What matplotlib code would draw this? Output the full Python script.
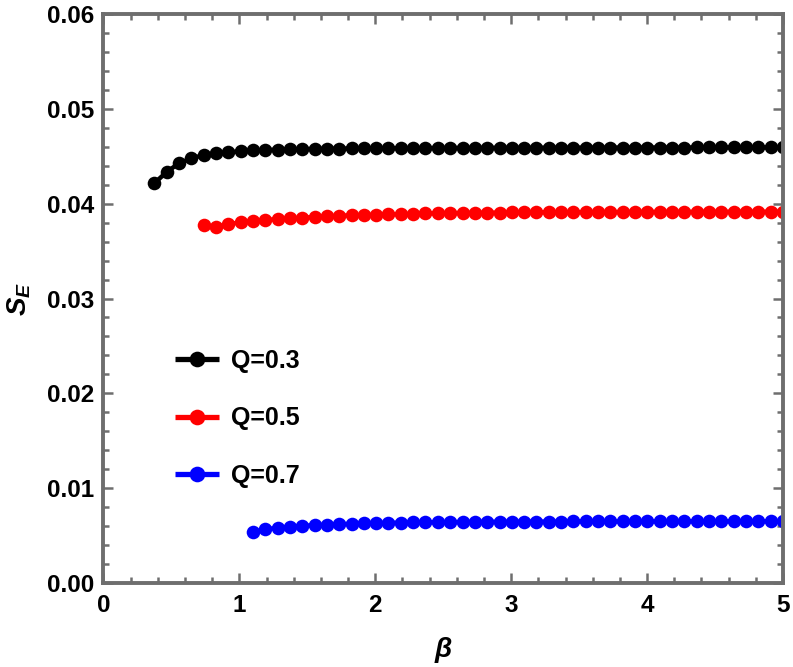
import matplotlib
matplotlib.use("Agg")
import matplotlib.pyplot as plt
from matplotlib.ticker import MultipleLocator

plt.rcParams['font.family'] = ['Liberation Sans', 'DejaVu Sans']
plt.rcParams['font.weight'] = 'bold'
plt.rcParams['mathtext.fontset'] = 'custom'
plt.rcParams['mathtext.it'] = 'Liberation Sans:italic:bold'
plt.rcParams['mathtext.rm'] = 'Liberation Sans:bold'
plt.rcParams['mathtext.bf'] = 'Liberation Sans:bold'

# common beta grid
beta = [0.374, 0.465, 0.555, 0.646, 0.737, 0.828, 0.918, 1.009, 1.100, 1.190,
        1.281, 1.372, 1.462, 1.553, 1.644, 1.735, 1.825, 1.916, 2.007, 2.097,
        2.188, 2.279, 2.369, 2.460, 2.551, 2.642, 2.732, 2.823, 2.914, 3.004,
        3.095, 3.186, 3.276, 3.367, 3.458, 3.549, 3.639, 3.730, 3.821, 3.911,
        4.002, 4.093, 4.183, 4.274, 4.365, 4.456, 4.546, 4.637, 4.728, 4.818,
        4.909, 5.000]

beta_q03 = beta
se_q03 = [0.04215, 0.04335, 0.04425, 0.04478, 0.04512, 0.04530, 0.04542, 0.04553, 0.04561, 0.04566,
          0.04570, 0.04573, 0.04576, 0.04578, 0.04580, 0.04581, 0.04582, 0.04583, 0.04584, 0.04585,
          0.04586, 0.04586, 0.04587, 0.04587, 0.04588, 0.04588, 0.04589, 0.04589, 0.04589, 0.04590,
          0.04590, 0.04590, 0.04590, 0.04591, 0.04591, 0.04591, 0.04591, 0.04591, 0.04592, 0.04592,
          0.04592, 0.04592, 0.04592, 0.04592, 0.04593, 0.04593, 0.04593, 0.04593, 0.04593, 0.04593,
          0.04593, 0.04593]

beta_q05 = beta[4:]
se_q05 = [0.03770, 0.03757, 0.03783, 0.03804, 0.03817, 0.03828, 0.03838, 0.03846, 0.03852, 0.03860,
          0.03867, 0.03873, 0.03878, 0.03881, 0.03884, 0.03888, 0.03891, 0.03894, 0.03897, 0.03899,
          0.03901, 0.03903, 0.03904, 0.03905, 0.03906, 0.03907, 0.03908, 0.03909, 0.03910, 0.03910,
          0.03911, 0.03911, 0.03912, 0.03912, 0.03913, 0.03913, 0.03913, 0.03914, 0.03914, 0.03914,
          0.03914, 0.03915, 0.03915, 0.03915, 0.03915, 0.03915, 0.03916, 0.03916]

beta_q07 = beta[8:]
se_q07 = [0.00535, 0.00566, 0.00583, 0.00594, 0.00603, 0.00610, 0.00616, 0.00621, 0.00625, 0.00629,
          0.00632, 0.00635, 0.00637, 0.00639, 0.00641, 0.00642, 0.00643, 0.00644, 0.00645, 0.00646,
          0.00646, 0.00647, 0.00647, 0.00648, 0.00648, 0.00648, 0.00649, 0.00649, 0.00649, 0.00649,
          0.00650, 0.00650, 0.00650, 0.00650, 0.00650, 0.00650, 0.00651, 0.00651, 0.00651, 0.00651,
          0.00651, 0.00651, 0.00651, 0.00651]

labels = ['Q=0.3', 'Q=0.5', 'Q=0.7']
colors = ['#000000', '#ff0000', '#0000ff']

xticks = [0, 1, 2, 3, 4, 5]
xticklabels = ['0', '1', '2', '3', '4', '5']
yticks = [0.00, 0.01, 0.02, 0.03, 0.04, 0.05, 0.06]
yticklabels = ['0.00', '0.01', '0.02', '0.03', '0.04', '0.05', '0.06']

fig = plt.figure(figsize=(7.93, 6.67), dpi=100)
ax = fig.add_axes([0.1305, 0.1259, 0.8569, 0.8531])

series = [(beta_q03, se_q03), (beta_q05, se_q05), (beta_q07, se_q07)]
for (bx, sy), c, lab in zip(series, colors, labels):
    ax.plot(bx, sy, color=c, lw=3.2, marker='o', markersize=9.8,
            markeredgewidth=0, label=lab, solid_capstyle='butt')

ax.set_xlim(0, 5)
ax.set_ylim(0, 0.06)
ax.set_xticks(xticks)
ax.set_xticklabels(xticklabels)
ax.set_yticks(yticks)
ax.set_yticklabels(yticklabels)
ax.xaxis.set_minor_locator(MultipleLocator(0.2))
ax.yaxis.set_minor_locator(MultipleLocator(0.002))

gray = '#6e6e6e'
for s in ax.spines.values():
    s.set_color(gray)
    s.set_linewidth(2.8)
ax.tick_params(which='both', direction='in', top=True, right=True,
               color=gray, width=1.8, labelsize=17.5, labelcolor='black')
ax.tick_params(which='major', length=7)
ax.tick_params(axis='y', which='major', pad=7)
ax.tick_params(axis='x', which='major', pad=8)
ax.tick_params(which='minor', length=4)
for lbl in ax.get_xticklabels() + ax.get_yticklabels():
    lbl.set_fontweight('bold')

ax.set_xlabel('β', fontsize=20, fontweight='bold', fontstyle='italic')
ax.xaxis.set_label_coords(0.5, -0.095)
ax.set_ylabel(r'$S_{E}$', fontsize=20)
ax.yaxis.set_label_coords(-0.104, 0.5)

leg = ax.legend(loc='upper left', bbox_to_anchor=(0.105, 0.411), frameon=False,
                fontsize=18, handlelength=1.75, handletextpad=0.5,
                labelspacing=1.33, borderpad=0, borderaxespad=0, markerscale=1.15)
for t in leg.get_texts():
    t.set_fontweight('bold')
for h in leg.get_lines():
    h.set_linewidth(3.8)

fig.savefig('out.png', dpi=100)
